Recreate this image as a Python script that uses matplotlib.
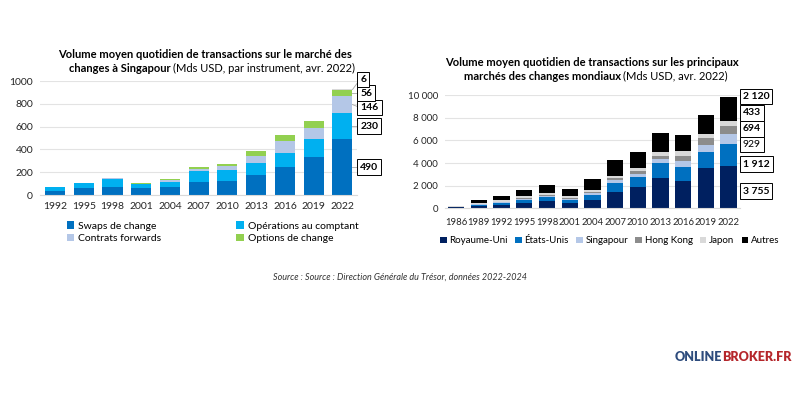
import matplotlib.pyplot as plt
import numpy as np

plt.rcParams['font.family'] = ['Lato', 'DejaVu Sans']

# --- données graphique gauche (Singapour, par instrument) ---
annees_sg = ['1992', '1995', '1998', '2001', '2004', '2007', '2010', '2013', '2016', '2019', '2022']
swaps = [35, 59, 73, 59, 73, 114, 123, 176, 249, 337, 490]
comptant = [38, 49, 65, 35, 44, 94, 94, 102, 123, 158, 230]
forwards = [0, 0, 8, 5, 13, 24, 38, 65, 106, 94, 146]
options = [0, 0, 4, 3, 6, 14, 18, 44, 44, 56, 56]
autres_sg = [0, 0, 0, 0, 0, 0, 0, 0, 0, 0, 6]
series_sg = ['Swaps de change', 'Opérations au comptant', 'Contrats forwards', 'Options de change']
couleurs_sg = ['#0070C0', '#00B0F0', '#B4C7E7', '#92D050']

# --- données graphique droit (principaux marchés) ---
annees_m = ['1986', '1989', '1992', '1995', '1998', '2001', '2004', '2007', '2010', '2013', '2016', '2019', '2022']
royaume_uni = [90, 184, 291, 464, 637, 504, 753, 1483, 1854, 2726, 2406, 3576, 3755]
etats_unis = [58, 115, 167, 244, 351, 254, 461, 745, 904, 1263, 1272, 1370, 1912]
singapour = [0, 55, 74, 105, 139, 101, 125, 242, 266, 383, 517, 640, 929]
hong_kong = [0, 49, 60, 90, 79, 67, 102, 181, 238, 275, 437, 632, 694]
japon = [48, 111, 120, 161, 136, 147, 199, 250, 312, 374, 399, 376, 433]
autres = [0, 250, 410, 560, 740, 640, 950, 1400, 1450, 1650, 1450, 1650, 2120]
series_m = ['Royaume-Uni', 'États-Unis', 'Singapour', 'Hong Kong', 'Japon', 'Autres']
couleurs_m = ['#002060', '#0070C0', '#B4C7E7', '#8C8C8C', '#D9D9D9', '#000000']


def fmt(v):
    return f"{v:,}".replace(",", " ")


def style_axe(ax):
    for s in ['top', 'right', 'left']:
        ax.spines[s].set_visible(False)
    ax.spines['bottom'].set_color('#D9D9D9')
    ax.yaxis.grid(True, color='#E3E3E3', linewidth=0.8)
    ax.set_axisbelow(True)
    ax.tick_params(length=0, labelsize=7.5, colors='#262626', pad=5)


fig = plt.figure(figsize=(8, 4), dpi=100)

# ================= gauche =================
ax1 = fig.add_axes([0.05, 0.5125, 0.396, 0.285])
x1 = np.arange(len(annees_sg))
bas = np.zeros(len(annees_sg))
barres = []
for vals, nom, c in zip([swaps, comptant, forwards, options], series_sg, couleurs_sg):
    barres.append(ax1.bar(x1, vals, 0.7, bottom=bas, color=c, label=nom))
    bas += np.array(vals)
ax1.bar(x1, autres_sg, 0.7, bottom=bas, color='#D9D9D9')
ax1.set_xlim(-0.52, 10.5)
ax1.set_ylim(0, 1000)
ax1.set_yticks(range(0, 1001, 200))
ax1.set_xticks(x1, annees_sg)
style_axe(ax1)

# étiquettes 2022
derniers = [swaps[-1], comptant[-1], forwards[-1], options[-1], autres_sg[-1]]
cumul = np.cumsum([0] + derniers)
decal = [0, 0, -25, 0, 85]
for i, v in enumerate(derniers):
    mid = (cumul[i] + cumul[i + 1]) / 2
    y_lab = mid + decal[i]
    ax1.plot([10 + 0.35, 10.6], [mid, y_lab], color='#A6A6A6', lw=0.6, clip_on=False)
    ax1.text(10.62, y_lab, str(v), fontsize=7.5, fontweight='bold', va='center', ha='left',
             bbox=dict(boxstyle='square,pad=0.3', fc='white', ec='black', lw=0.7))

# ordre colonne par colonne pour obtenir les lignes du modèle
ordre = [0, 2, 1, 3]
ax1.legend([barres[i] for i in ordre], [series_sg[i] for i in ordre], ncol=2,
           loc='upper left', bbox_to_anchor=(0.055, -0.15), frameon=False,
           fontsize=7.5, handlelength=0.7, handleheight=0.7, handletextpad=0.4,
           columnspacing=7.2, labelspacing=0.3)

# titre gauche
fig.text(205 / 800, 1 - 55 / 400, "Volume moyen quotidien de transactions sur le marché des",
         ha='center', va='center', fontsize=8, fontweight='bold')
fig.text(171 / 800, 1 - 68.5 / 400, "changes à Singapour", ha='right', va='center', fontsize=8,
         fontweight='bold')
fig.text(173 / 800, 1 - 68.5 / 400, "(Mds USD, par instrument, avr. 2022)", ha='left', va='center',
         fontsize=8)

# ================= droite =================
ax2 = fig.add_axes([0.556, 0.479, 0.369, 0.283])
x2 = np.arange(len(annees_m))
bas = np.zeros(len(annees_m))
for vals, nom, c in zip([royaume_uni, etats_unis, singapour, hong_kong, japon, autres],
                        series_m, couleurs_m):
    ax2.bar(x2, vals, 0.72, bottom=bas, color=c, label=nom)
    bas += np.array(vals)
ax2.set_xlim(-0.5, 12.5)
ax2.set_ylim(0, 10000)
ax2.set_yticks(range(0, 10001, 2000), [fmt(v) for v in range(0, 10001, 2000)])
ax2.set_xticks(x2, annees_m)
style_axe(ax2)
ax2.tick_params(axis='y', labelsize=7)
ax2.tick_params(axis='x', pad=7, labelsize=6.8)

derniers_m = [royaume_uni[-1], etats_unis[-1], singapour[-1], hong_kong[-1], japon[-1], autres[-1]]
pos_lab = [1530, 3920, 5660, 7020, 8430, 9880]
for v, y, poids in zip(derniers_m, pos_lab, ['bold', 'bold', 'normal', 'bold', 'bold', 'bold']):
    ax2.text(12.62, y, fmt(v), fontsize=7.5, fontweight=poids, va='center', ha='left',
             bbox=dict(boxstyle='square,pad=0.3', fc='white', ec='black', lw=0.7))

ax2.legend(ncol=6, loc='upper left', bbox_to_anchor=(-0.045, -0.17), frameon=False,
           fontsize=7, handlelength=0.65, handleheight=0.65, handletextpad=0.3,
           columnspacing=0.75)

fig.text(592 / 800, 1 - 62.5 / 400, "Volume moyen quotidien de transactions sur les principaux",
         ha='center', va='center', fontsize=8, fontweight='bold')
fig.text(621 / 800, 1 - 76 / 400, "marchés des changes mondiaux", ha='right', va='center',
         fontsize=8, fontweight='bold')
fig.text(623 / 800, 1 - 76 / 400, "(Mds USD, avr. 2022)", ha='left', va='center', fontsize=8)

# source + logo
fig.text(0.5, 1 - 277 / 400, "Source : Source : Direction Générale du Trésor, données 2022-2024",
         ha='center', va='center', fontsize=6.5, style='italic', color='#333333')
fig.text(722 / 800, 1 - 357 / 400, "ONLINE", ha='right', va='center', fontsize=9,
         fontweight='heavy', color='#2E4C7D')
fig.text(722 / 800, 1 - 357 / 400, "BROKER.FR", ha='left', va='center', fontsize=9,
         fontweight='heavy', color='#B5262B')

fig.savefig('out.png', dpi=100)
